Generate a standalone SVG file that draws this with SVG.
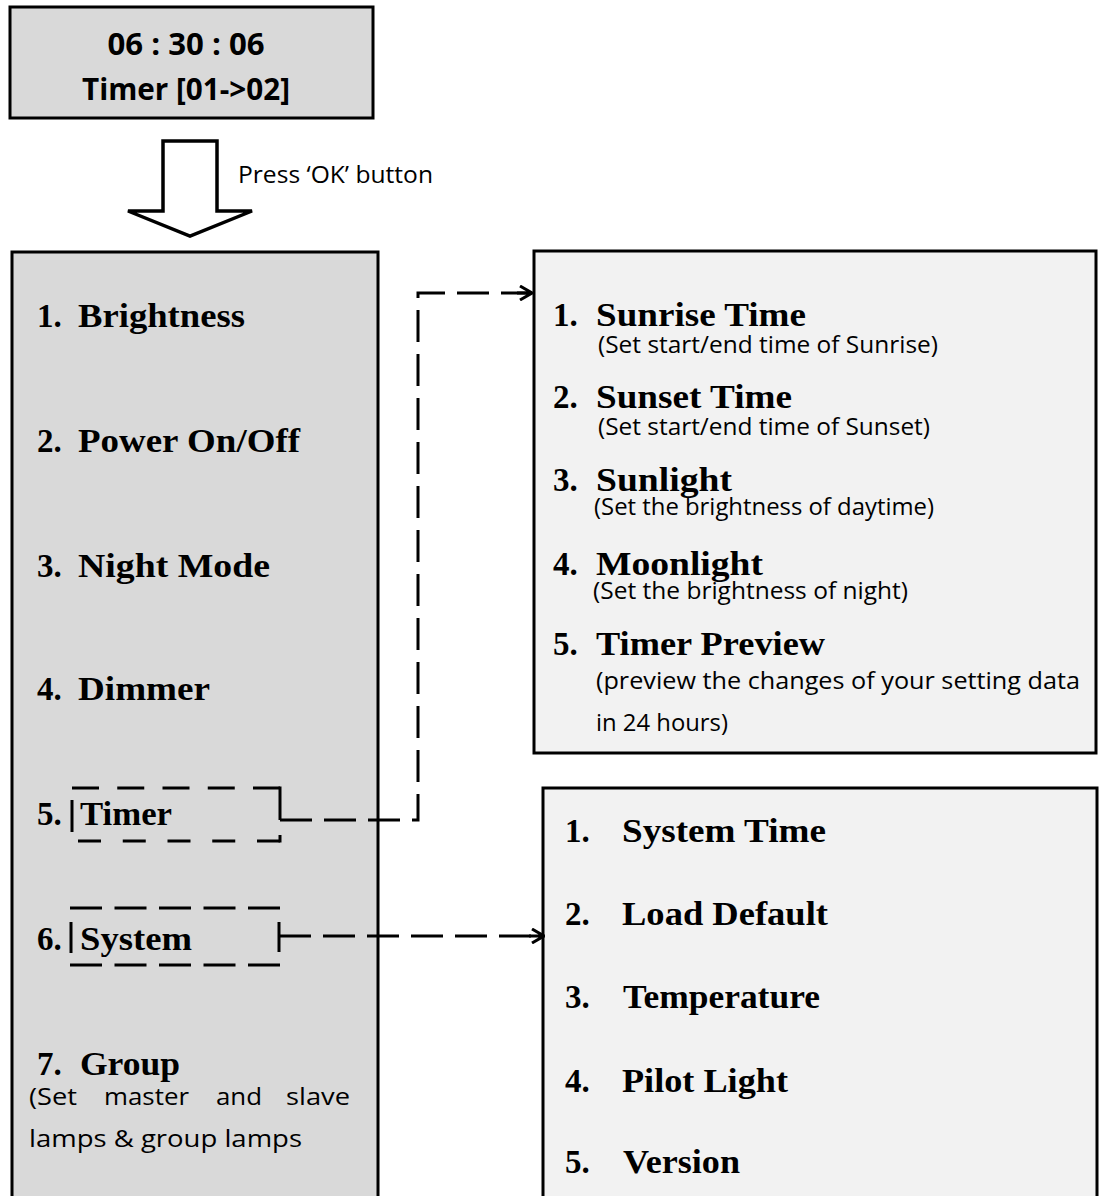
<svg xmlns="http://www.w3.org/2000/svg" width="1104" height="1196" viewBox="0 0 1104 1196">
<style>
.box{stroke:#000;stroke-width:3}
.dark{fill:#d9d9d9}
.light{fill:#f2f2f2}
.ttl{font-family:"Liberation Serif","Times New Roman",serif;font-weight:bold;font-size:33px;fill:#000}
.sub{font-family:"Open Sans","Liberation Sans",sans-serif;font-size:23px;fill:#000}
.hdr{font-family:"Open Sans","Liberation Sans",sans-serif;font-weight:bold;font-size:30px;fill:#000}
.conn{fill:none;stroke:#000;stroke-width:3;stroke-dasharray:32 12}
.dash{fill:none;stroke:#000;stroke-width:3}
</style>
<defs>
<marker id="arr" viewBox="0 0 16 16" refX="15" refY="8" markerWidth="16" markerHeight="16" markerUnits="userSpaceOnUse" orient="auto">
<path d="M0,8 H14 M3,1 L15,8 L3,15" fill="none" stroke="#000" stroke-width="3"/>
</marker>
</defs>
<rect width="1104" height="1196" fill="#fff"/>

<g id="status">
<rect class="box dark" x="10" y="7" width="363" height="111"/>
<text class="hdr" x="186" y="55" text-anchor="middle" textLength="157" lengthAdjust="spacingAndGlyphs">06 : 30 : 06</text>
<text class="hdr" x="186" y="100" text-anchor="middle" textLength="208" lengthAdjust="spacingAndGlyphs">Timer [01-&gt;02]</text>
</g>

<g id="press-ok">
<path d="M163,141 H217 V211 H252 L190,236 L128,211 H163 Z" fill="#fff" stroke="#000" stroke-width="3.5" stroke-linejoin="miter"/>
<text class="sub" x="238" y="183" font-size="22" textLength="195" lengthAdjust="spacingAndGlyphs">Press ‘OK’ button</text>
</g>

<g id="main-menu">
<rect class="box dark" x="12" y="252" width="366" height="970"/>
<text class="ttl" x="37" y="327">1.</text><text class="ttl" x="78" y="327" textLength="167" lengthAdjust="spacingAndGlyphs">Brightness</text>
<text class="ttl" x="37" y="452">2.</text><text class="ttl" x="78" y="452" textLength="222" lengthAdjust="spacingAndGlyphs">Power On/Off</text>
<text class="ttl" x="37" y="577">3.</text><text class="ttl" x="78" y="577" textLength="192" lengthAdjust="spacingAndGlyphs">Night Mode</text>
<text class="ttl" x="37" y="700">4.</text><text class="ttl" x="78" y="700" textLength="132" lengthAdjust="spacingAndGlyphs">Dimmer</text>
<text class="ttl" x="37" y="1075">7.</text><text class="ttl" x="80" y="1075" textLength="100" lengthAdjust="spacingAndGlyphs">Group</text>
<text class="sub" x="29" y="1105" textLength="48" lengthAdjust="spacingAndGlyphs">(Set</text>
<text class="sub" x="104" y="1105" textLength="85" lengthAdjust="spacingAndGlyphs">master</text>
<text class="sub" x="216" y="1105" textLength="46" lengthAdjust="spacingAndGlyphs">and</text>
<text class="sub" x="286" y="1105" textLength="64" lengthAdjust="spacingAndGlyphs">slave</text>
<text class="sub" x="29" y="1147" textLength="273" lengthAdjust="spacingAndGlyphs">lamps &amp; group lamps</text>
</g>

<g id="timer-item">
<text class="ttl" x="37" y="825">5.</text><text class="ttl" x="80" y="825" textLength="92" lengthAdjust="spacingAndGlyphs">Timer</text>
<path class="dash" d="M72,788 H280" stroke-dasharray="27 18.25"/>
<path class="dash" d="M78,841 H280" stroke-dasharray="23 21.75"/>
<path class="dash" d="M280,835 V842.5"/>
<path class="dash" d="M72,800 V832"/>
<path class="dash" d="M280,786.5 V820"/>
</g>

<g id="system-item">
<text class="ttl" x="37" y="950">6.</text><text class="ttl" x="80" y="950" textLength="112" lengthAdjust="spacingAndGlyphs">System</text>
<path class="dash" d="M70,908 H280" stroke-dasharray="32 12.5"/>
<path class="dash" d="M70,965 H280" stroke-dasharray="32 12.5"/>
<path class="dash" d="M71,922 V953"/>
<path class="dash" d="M279,922 V952"/>
</g>

<g id="timer-menu">
<rect class="box light" x="534" y="251" width="562" height="502"/>
<text class="ttl" x="553" y="326">1.</text><text class="ttl" x="596" y="326" textLength="210" lengthAdjust="spacingAndGlyphs">Sunrise Time</text>
<text class="sub" x="598" y="353" textLength="340" lengthAdjust="spacingAndGlyphs">(Set start/end time of Sunrise)</text>
<text class="ttl" x="553" y="408">2.</text><text class="ttl" x="596" y="408" textLength="196" lengthAdjust="spacingAndGlyphs">Sunset Time</text>
<text class="sub" x="598" y="435" textLength="332" lengthAdjust="spacingAndGlyphs">(Set start/end time of Sunset)</text>
<text class="ttl" x="553" y="491">3.</text><text class="ttl" x="596" y="491" textLength="136" lengthAdjust="spacingAndGlyphs">Sunlight</text>
<text class="sub" x="594" y="515" textLength="340" lengthAdjust="spacingAndGlyphs">(Set the brightness of daytime)</text>
<text class="ttl" x="553" y="575">4.</text><text class="ttl" x="596" y="575" textLength="167" lengthAdjust="spacingAndGlyphs">Moonlight</text>
<text class="sub" x="593" y="599" textLength="315" lengthAdjust="spacingAndGlyphs">(Set the brightness of night)</text>
<text class="ttl" x="553" y="655">5.</text><text class="ttl" x="596" y="655" textLength="229" lengthAdjust="spacingAndGlyphs">Timer Preview</text>
<text class="sub" x="596" y="689" textLength="484" lengthAdjust="spacingAndGlyphs">(preview the changes of your setting data</text>
<text class="sub" x="596" y="731" textLength="132" lengthAdjust="spacingAndGlyphs">in 24 hours)</text>
</g>

<g id="system-menu">
<rect class="box light" x="543" y="788" width="554" height="434"/>
<text class="ttl" x="565" y="842">1.</text><text class="ttl" x="622" y="842" textLength="204" lengthAdjust="spacingAndGlyphs">System Time</text>
<text class="ttl" x="565" y="925">2.</text><text class="ttl" x="622" y="925" textLength="206" lengthAdjust="spacingAndGlyphs">Load Default</text>
<text class="ttl" x="565" y="1008">3.</text><text class="ttl" x="623" y="1008" textLength="197" lengthAdjust="spacingAndGlyphs">Temperature</text>
<text class="ttl" x="565" y="1092">4.</text><text class="ttl" x="622" y="1092" textLength="166" lengthAdjust="spacingAndGlyphs">Pilot Light</text>
<text class="ttl" x="565" y="1173">5.</text><text class="ttl" x="623" y="1173" textLength="117" lengthAdjust="spacingAndGlyphs">Version</text>
</g>

<g id="connectors">
<path class="conn" d="M280,820 H418 V293 H532" marker-end="url(#arr)"/>
<path class="conn" d="M279,936 H544" marker-end="url(#arr)"/>
</g>
</svg>
